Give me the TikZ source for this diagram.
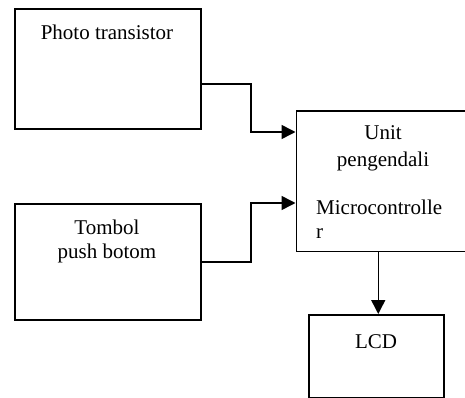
\documentclass[tikz,border=0pt]{standalone}
\usepackage{fontspec}
\setmainfont{Liberation Serif}
\usetikzlibrary{arrows.meta}
\tikzset{
  blockbox/.style={draw, line width=1.5pt, anchor=north west, inner sep=0pt},
  lbl/.style={anchor=base, inner sep=0pt, font=\fontsize{21}{24}\selectfont},
  arr/.style={line width=1.5pt, -{Triangle[length=14pt,width=14pt]}}
}
\begin{document}
\begin{tikzpicture}[x=1pt,y=1pt]
\useasboundingbox (0,0) rectangle (465,-398);
\clip (0,0) rectangle (465,-398);
% boxes
\node[blockbox, minimum width=186pt, minimum height=120pt] (photo) at (14,-8.5) {};
\node[blockbox, minimum width=186pt, minimum height=116pt] (tombol) at (14,-203) {};
\node[blockbox, minimum width=190pt, minimum height=140pt] (unit) at (295.5,-110.5) {};
\node[blockbox, minimum width=135pt, minimum height=83pt] (lcd) at (308,-314) {};
% texts
\node[lbl] (t1) at (107,-40) {Photo transistor};
\node[lbl] (t2) at (107,-234) {Tombol};
\node[lbl] (t3) at (107,-258) {push botom};
\node[lbl] (t4) at (383,-140) {Unit};
\node[lbl] (t5) at (383,-166) {pengendali};
\node[lbl, anchor=base west] (t6) at (316,-214) {Microcontrolle};
\node[lbl, anchor=base west] (t7) at (316,-238) {r};
\node[lbl] (t8) at (376,-348) {LCD};
% connectors
\coordinate (j1) at (251,-84);
\coordinate (j2) at (251,-262);
\draw[arr] (photo.east |- j1) -- (j1) |- ([yshift=-21.5pt]unit.north west);
\draw[arr] (tombol.east |- j2) -- (j2) |- ([yshift=-92.5pt]unit.north west);
\draw[arr] ([xshift=2pt]unit.south -| lcd.north) -- ([xshift=2pt]lcd.north);
\end{tikzpicture}
\end{document}
